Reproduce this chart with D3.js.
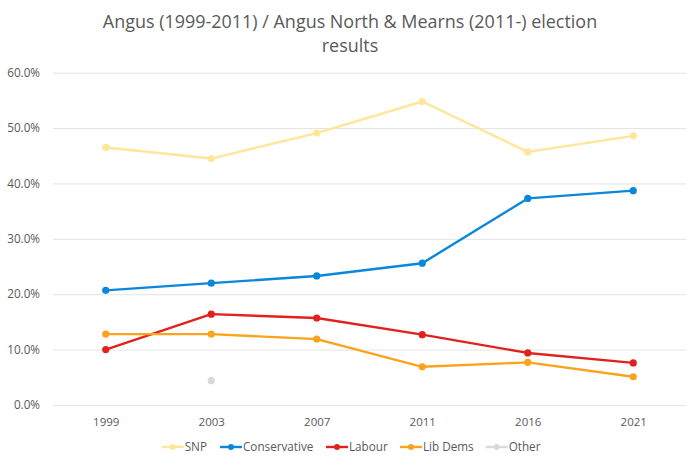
<!DOCTYPE html>
<html>
<head>
<meta charset="utf-8">
<script src="https://cdn.jsdelivr.net/npm/d3@7"></script>
<style>
  html, body { margin: 0; padding: 0; background: #fff; }
  svg { display: block; }
  text { font-family: "Open Sans", "Liberation Sans", sans-serif; fill: #595959; }
</style>
</head>
<body>
<svg id="chart" width="700" height="467"></svg>
<script>
const years = ["1999", "2003", "2007", "2011", "2016", "2021"];
const snp = [46.5, 44.5, 49.1, 54.8, 45.7, 48.6];
const conservative = [20.7, 22.0, 23.3, 25.6, 37.3, 38.7];
const labour = [10.0, 16.4, 15.7, 12.7, 9.4, 7.6];
const libDems = [12.8, 12.8, 11.9, 6.9, 7.7, 5.1];
const other = [null, 4.4, null, null, null, null];
const yTicks = [0, 10, 20, 30, 40, 50, 60];
const seriesNames = ["SNP", "Conservative", "Labour", "Lib Dems", "Other"];
const seriesColors = ["#FFE699", "#0A87DB", "#E0221F", "#FBA31C", "#D9D9D9"];
const titleLines = ["Angus (1999-2011) / Angus North & Mearns (2011-) election", "results"];

(function () {
const seriesValues = [snp, conservative, labour, libDems, other];
const series = seriesNames.map((name, i) => ({
  name, color: seriesColors[i],
  points: years.map((yr, j) => ({ year: yr, value: seriesValues[i][j] }))
}));

const svg = d3.select("#chart");
const mLeft = 53, mRight = 686, mTop = 72.7, mBottom = 405;

const x = d3.scalePoint().domain(years).range([mLeft, mRight]).padding(0.5);
const y = d3.scaleLinear().domain([0, 60]).range([mBottom, mTop]);

// Title
const title = svg.append("g");
const titleSize = 17.3;
const t1 = title.append("text").attr("x", 350).attr("y", 28.5).attr("text-anchor", "middle")
  .style("font-size", titleSize + "px").text(titleLines[0]);
const w = t1.node().getComputedTextLength();
const sx = 494 / w;
t1.attr("transform", `translate(350,0) scale(${sx},1) translate(-350,0)`);
const t2 = title.append("text").attr("x", 350).attr("y", 52).attr("text-anchor", "middle")
  .style("font-size", titleSize + "px").text(titleLines[1])
  .attr("transform", `translate(350,0) scale(${sx},1) translate(-350,0)`);

// Gridlines + y labels
const yAxis = d3.axisLeft(y).tickValues(yTicks).tickSize(-(mRight - mLeft)).tickPadding(13)
  .tickFormat(d => d3.format(".1f")(d) + "%");
const gy = svg.append("g").attr("transform", `translate(${mLeft},0)`).call(yAxis);
gy.select(".domain").remove();
gy.selectAll(".tick line").attr("stroke", "#E3E3E3").attr("stroke-width", 1);
gy.selectAll(".tick text").style("font-size", "11.7px").attr("fill", "#595959");

// X axis labels
const xAxis = d3.axisBottom(x).tickSize(0).tickPadding(13);
const gx = svg.append("g").attr("transform", `translate(0,${mBottom})`).call(xAxis);
gx.select(".domain").remove();
gx.selectAll(".tick text").style("font-size", "11.5px").attr("fill", "#595959");

// Lines
const line = d3.line().defined(d => d.value != null)
  .x(d => x(d.year)).y(d => y(d.value));

series.forEach(s => {
  svg.append("path").datum(s.points)
    .attr("fill", "none").attr("stroke", s.color).attr("stroke-width", 2.4)
    .attr("stroke-linejoin", "round").attr("d", line);
  svg.selectAll(null).data(s.points.filter(d => d.value != null)).enter()
    .append("circle").attr("cx", d => x(d.year)).attr("cy", d => y(d.value))
    .attr("r", 3.6).attr("fill", s.color);
});

// Legend
const legendX = [161.7, 220, 326, 400, 485.7];
const legendY = 447;
const lg = svg.append("g");
series.forEach((s, i) => {
  const g = lg.append("g").attr("transform", `translate(${legendX[i]},${legendY})`);
  g.append("line").attr("x1", 0).attr("x2", 22).attr("y1", 0).attr("y2", 0)
    .attr("stroke", s.color).attr("stroke-width", 2.4);
  g.append("circle").attr("cx", 11).attr("cy", 0).attr("r", 3).attr("fill", s.color);
  g.append("text").attr("x", 23).attr("y", 0).attr("dy", "0.35em")
    .style("font-size", "11.7px").text(s.name);
});
})();
</script>
</body>
</html>
